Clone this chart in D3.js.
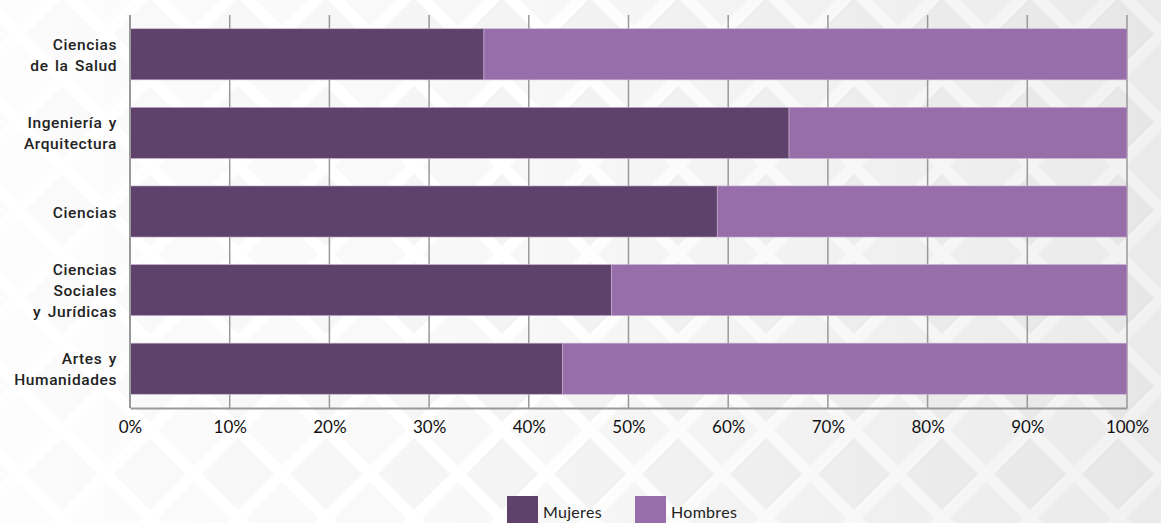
<!DOCTYPE html>
<html>
<head>
<meta charset="utf-8">
<script src="https://cdn.jsdelivr.net/npm/d3@7"></script>
<style>
  body { margin: 0; background: #fff; }
  svg { display: block; }
</style>
</head>
<body>
<svg id="chart"></svg>
<script>
// data (share of women per field, %)
const categories = ["Ciencias de la Salud", "Ingeniería y Arquitectura", "Ciencias", "Ciencias Sociales y Jurídicas", "Artes y Humanidades"];
const categoryLines = [["Ciencias", "de la Salud"], ["Ingeniería y", "Arquitectura"], ["Ciencias"], ["Ciencias", "Sociales", "y Jurídicas"], ["Artes y", "Humanidades"]];
const mujeres = [35.5, 66.1, 58.9, 48.3, 43.4];
const hombres = [64.5, 33.9, 41.1, 51.7, 56.6];
const seriesNames = ["Mujeres", "Hombres"];
const tickValues = [0, 10, 20, 30, 40, 50, 60, 70, 80, 90, 100];

const width = 1161, height = 523;
const margin = { top: 15, right: 34, bottom: 115, left: 130 };
const colors = { Mujeres: "#5e426b", Hombres: "#986eaa" };

const svg = d3.select("#chart")
    .attr("width", width)
    .attr("height", height);

// faint diamond pattern in the background
const defs = svg.append("defs");
const pat = defs.append("pattern")
    .attr("id", "diamonds")
    .attr("patternUnits", "userSpaceOnUse")
    .attr("width", 88)
    .attr("height", 88)
    .attr("x", 18)
    .attr("y", -10);
pat.append("path")
    .attr("d", "M44,8 L80,44 L44,80 L8,44 Z")
    .attr("fill", "#eeeeee");
pat.append("path")
    .attr("d", "M0,-36 L36,0 L0,36 L-36,0 Z M88,-36 L124,0 L88,36 L52,0 Z M0,52 L36,88 L0,124 L-36,88 Z M88,52 L124,88 L88,124 L52,88 Z")
    .attr("fill", "#f4f4f4");

const grad = defs.append("linearGradient")
    .attr("id", "fade")
    .attr("x1", "0").attr("x2", "1");
grad.append("stop").attr("offset", "0").attr("stop-color", "#fff").attr("stop-opacity", 0.8);
grad.append("stop").attr("offset", "0.45").attr("stop-color", "#fff").attr("stop-opacity", 0.35);
grad.append("stop").attr("offset", "1").attr("stop-color", "#d8d8d8").attr("stop-opacity", 0.35);

svg.append("rect").attr("width", width).attr("height", height).attr("fill", "url(#diamonds)");
svg.append("rect").attr("width", width).attr("height", height).attr("fill", "url(#fade)");

const innerW = width - margin.left - margin.right;
const innerH = height - margin.top - margin.bottom;

const g = svg.append("g")
    .attr("transform", "translate(" + margin.left + "," + margin.top + ")");

const x = d3.scaleLinear().domain([0, 100]).range([0, innerW]);
const y = d3.scaleBand().domain(categories).range([0, innerH]).paddingInner(0.35).paddingOuter(0.175);

// vertical grid lines
g.append("g")
    .selectAll("line")
    .data(tickValues)
    .join("line")
    .attr("x1", d => x(d))
    .attr("x2", d => x(d))
    .attr("y1", 0)
    .attr("y2", innerH)
    .attr("stroke", "#999")
    .attr("stroke-width", 1.5);

// stacked bars
const rows = categories.map((c, i) => ({ cat: c, Mujeres: mujeres[i], Hombres: hombres[i] }));
const stacked = d3.stack().keys(seriesNames)(rows);

g.append("g")
    .selectAll("g")
    .data(stacked)
    .join("g")
    .attr("fill", d => colors[d.key])
    .selectAll("rect")
    .data(d => d)
    .join("rect")
    .attr("x", d => x(d[0]))
    .attr("y", d => y(d.data.cat))
    .attr("width", d => x(d[1]) - x(d[0]))
    .attr("height", y.bandwidth())
    .attr("stroke", "#c9b3d2")
    .attr("stroke-width", 0.6);

// x axis
const xAxis = g.append("g")
    .attr("transform", "translate(0," + innerH + ")")
    .call(d3.axisBottom(x).tickValues(tickValues).tickFormat(d => d + "%").tickSize(0).tickPadding(13));
xAxis.select(".domain").attr("stroke", "#999").attr("stroke-width", 2);
xAxis.selectAll("text")
    .attr("fill", "#111")
    .style("font-family", "Lato, 'Open Sans', sans-serif")
    .style("font-size", "17px");

// left axis line
g.append("line")
    .attr("x1", 0).attr("x2", 0)
    .attr("y1", 0).attr("y2", innerH)
    .attr("stroke", "#999")
    .attr("stroke-width", 2);

// category labels
const labels = g.append("g")
    .selectAll("text")
    .data(categories)
    .join("text")
    .attr("x", -13)
    .attr("y", d => y(d) + y.bandwidth() / 2)
    .attr("text-anchor", "end")
    .attr("fill", "#222")
    .style("font-family", "Roboto, sans-serif")
    .style("font-weight", 500)
    .style("font-size", "15.5px")
    .style("letter-spacing", "0.6px")
    .style("word-spacing", "2px");

labels.each(function(d, i) {
    const lines = categoryLines[i];
    const lh = 21;
    const start = -(lines.length - 1) * lh / 2;
    d3.select(this).selectAll("tspan")
        .data(lines)
        .join("tspan")
        .attr("x", -13)
        .attr("dy", (t, j) => j === 0 ? (start + 6) : lh)
        .text(t => t);
});

// legend
const legend = svg.append("g")
    .attr("transform", "translate(507,496)");
const items = legend.selectAll("g")
    .data(seriesNames)
    .join("g")
    .attr("transform", (d, i) => "translate(" + (i * 128) + ",0)");
items.append("rect")
    .attr("width", 31)
    .attr("height", 27)
    .attr("fill", d => colors[d]);
items.append("text")
    .attr("x", 36)
    .attr("y", 22)
    .attr("fill", "#222")
    .style("font-family", "Lato, 'Open Sans', sans-serif")
    .style("font-size", "16px")
    .style("letter-spacing", "0.3px")
    .text(d => d);
</script>
</body>
</html>
